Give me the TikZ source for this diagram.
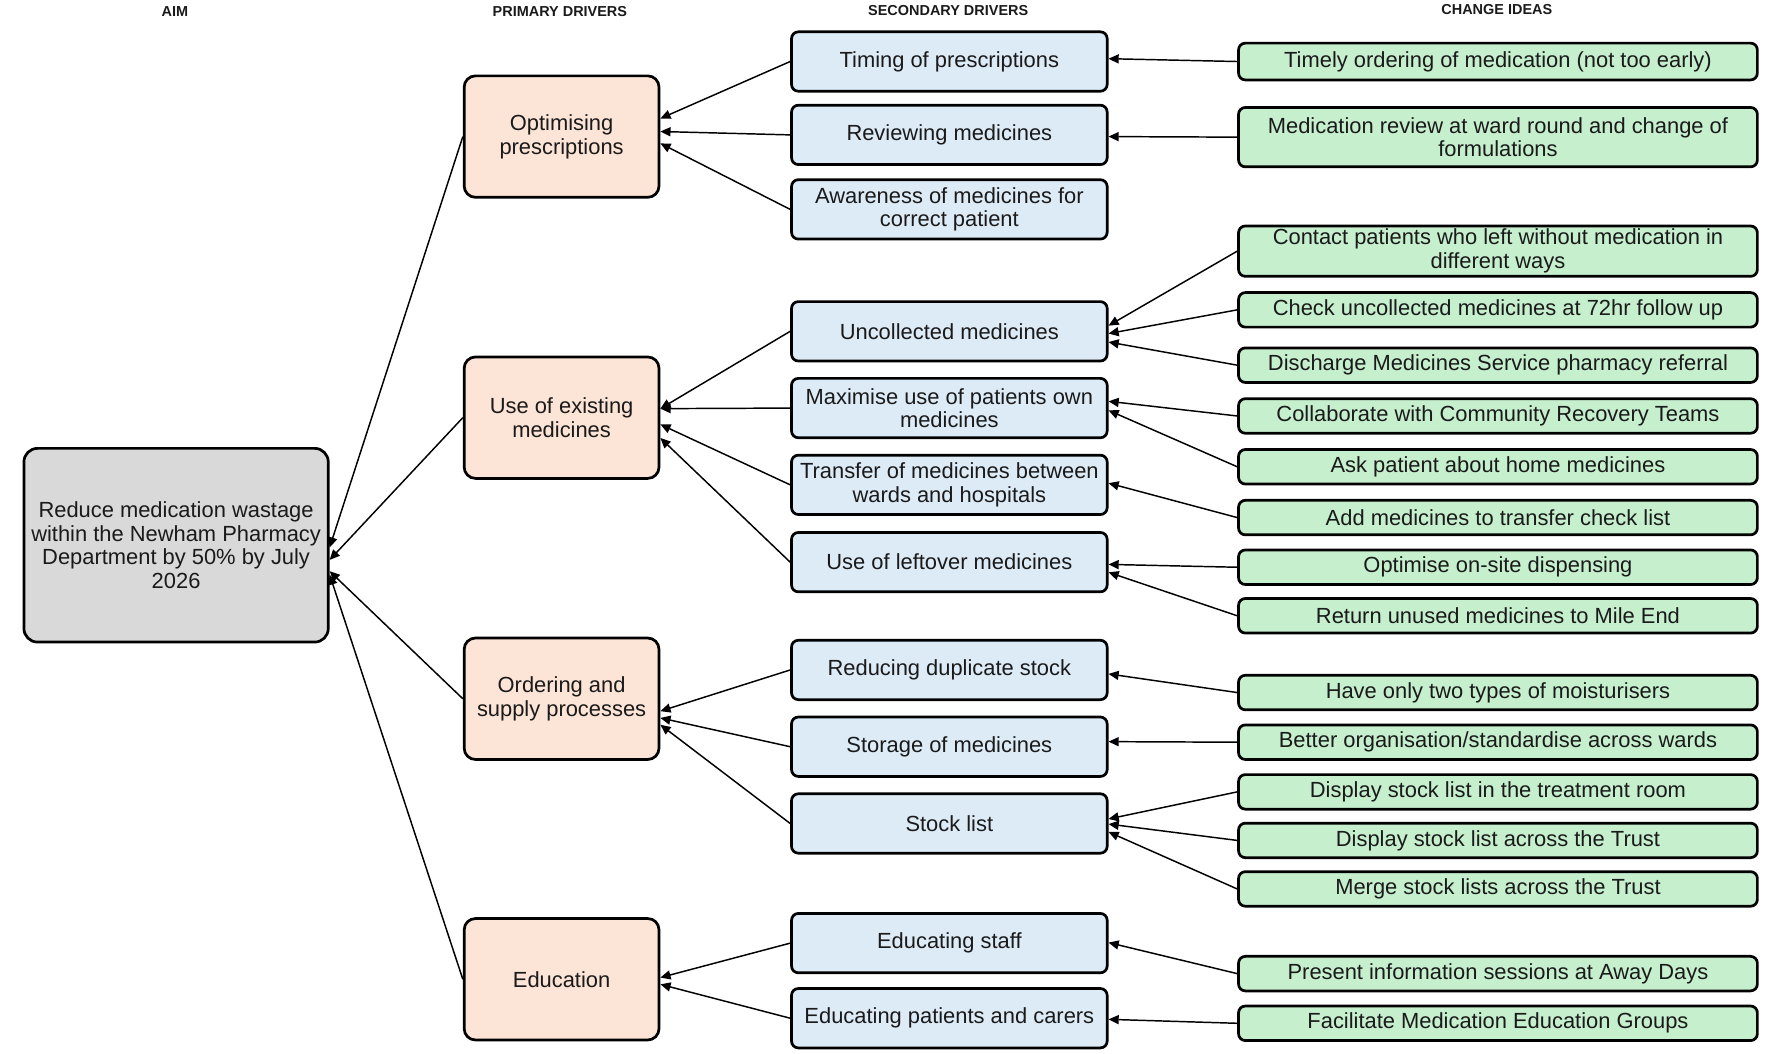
\documentclass[tikz,border=0pt]{standalone}
\usepackage{fontspec}
\setmainfont{Liberation Sans}
\usetikzlibrary{arrows.meta}
\definecolor{aimfill}{HTML}{D9D9D9}
\definecolor{prifill}{HTML}{FCE4D6}
\definecolor{secfill}{HTML}{DDEBF7}
\definecolor{idefill}{HTML}{C6EFCE}
\definecolor{txt}{HTML}{1A1A1A}
\begin{document}
\begin{tikzpicture}[x=1pt,y=-1pt,
  box/.style={draw=black, line width=2.4pt, align=center, inner sep=0pt, text=txt,
    font=\fontsize{19.4}{21}\selectfont},
  aimbox/.style={box, fill=aimfill, rounded corners=12pt, minimum width=269.6pt, minimum height=171.6pt},
  pribox/.style={box, fill=prifill, rounded corners=10pt, minimum width=172.6pt, minimum height=107.6pt},
  secbox/.style={box, fill=secfill, rounded corners=6pt, minimum width=279.6pt, minimum height=52.6pt},
  idebox/.style={box, fill=idefill, rounded corners=6pt, minimum width=459.6pt, minimum height=30.6pt},
  idetall/.style={idebox, minimum height=52.6pt},
  idemid/.style={idebox, minimum height=44.6pt},
  idesm/.style={idebox, minimum height=32.6pt},
  arr/.style={-{Triangle[length=9pt,width=8pt]}, line width=1.3pt},
  hdr/.style={font=\bfseries\fontsize{12.8}{14}\selectfont, text=txt, inner sep=0pt}
]
\useasboundingbox (0,0) rectangle (1568,933.7);

% headers
\node[hdr] (h1) at (155,10) {AIM};
\node[hdr] (h2) at (496,10) {PRIMARY DRIVERS};
\node[hdr] (h3) at (840,9) {SECONDARY DRIVERS};
\node[hdr] (h4) at (1326,8) {CHANGE IDEAS};

% aim
\node[aimbox] (aim) at (156,483) {Reduce medication wastage\\within the Newham Pharmacy\\Department by 50\% by July\\2026};

% primary drivers
\node[pribox] (p1) at (497.5,121) {Optimising\\prescriptions};
\node[pribox] (p2) at (497.5,370) {Use of existing\\medicines};
\node[pribox] (p3) at (497.5,619) {Ordering and\\supply processes};
\node[pribox] (p4) at (497.5,867.5) {Education};

% secondary drivers
\node[secbox] (s1) at (841,54.5) {Timing of prescriptions};
\node[secbox] (s2) at (841,119.5) {Reviewing medicines};
\node[secbox] (s3) at (841,185.5) {Awareness of medicines for\\correct patient};
\node[secbox] (s4) at (841,293.5) {Uncollected medicines};
\node[secbox] (s5) at (841,361.5) {Maximise use of patients own\\medicines};
\node[secbox] (s6) at (841,429.5) {Transfer of medicines between\\wards and hospitals};
\node[secbox] (s7) at (841,498) {Use of leftover medicines};
\node[secbox] (s8) at (841,593.5) {Reducing duplicate stock};
\node[secbox] (s9) at (841,661.5) {Storage of medicines};
\node[secbox] (s10) at (841,729.5) {Stock list};
\node[secbox] (s11) at (841,835.5) {Educating staff};
\node[secbox] (s12) at (841,902) {Educating patients and carers};

% change ideas
\node[idesm] (g1) at (1327,54.5) {Timely ordering of medication (not too early)};
\node[idetall] (g2) at (1327,121.5) {Medication review at ward round and change of\\formulations};
\node[idemid] (g3) at (1327,222.5) {Contact patients who left without medication in\\different ways};
\node[idebox] (g4) at (1327,274.5) {Check uncollected medicines at 72hr follow up};
\node[idebox] (g5) at (1327,323.5) {Discharge Medicines Service pharmacy referral};
\node[idebox] (g6) at (1327,368.5) {Collaborate with Community Recovery Teams};
\node[idebox] (g7) at (1327,413.5) {Ask patient about home medicines};
\node[idebox] (g8) at (1327,458.5) {Add medicines to transfer check list};
\node[idebox] (g9) at (1327,502.5) {Optimise on-site dispensing};
\node[idebox] (g10) at (1327,545.5) {Return unused medicines to Mile End};
\node[idebox] (g11) at (1327,613.5) {Have only two types of moisturisers};
\node[idebox] (g12) at (1327,657.5) {Better organisation/standardise across wards};
\node[idebox] (g13) at (1327,701.5) {Display stock list in the treatment room};
\node[idebox] (g14) at (1327,744.5) {Display stock list across the Trust};
\node[idebox] (g15) at (1327,787.5) {Merge stock lists across the Trust};
\node[idebox] (g16) at (1327,862.5) {Present information sessions at Away Days};
\node[idebox] (g17) at (1327,906.5) {Facilitate Medication Education Groups};

% primary -> aim
\draw[arr] (p1.west) -- ([yshift=-2pt]aim.east);
\draw[arr] (p2.west) -- ([yshift=-13pt]aim.east);
\draw[arr] (p3.west) -- ([yshift=-23pt]aim.east);
\draw[arr] (p4.west) -- ([yshift=-26pt]aim.east);

% secondary -> primary
\draw[arr] (s1.west) -- ([yshift=16pt]p1.east);
\draw[arr] (s2.west) -- ([yshift=4.5pt]p1.east);
\draw[arr] (s3.west) -- ([yshift=-6pt]p1.east);
\draw[arr] (s4.west) -- ([yshift=8pt]p2.east);
\draw[arr] (s5.west) -- ([yshift=8pt]p2.east);
\draw[arr] (s6.west) -- ([yshift=-6pt]p2.east);
\draw[arr] (s7.west) -- ([yshift=-18pt]p2.east);
\draw[arr] (s8.west) -- ([yshift=-11pt]p3.east);
\draw[arr] (s9.west) -- ([yshift=-17pt]p3.east);
\draw[arr] (s10.west) -- ([yshift=-23pt]p3.east);
\draw[arr] (s11.west) -- ([yshift=1.5pt]p4.east);
\draw[arr] (s12.west) -- ([yshift=-4.5pt]p4.east);

% change ideas -> secondary
\draw[arr] (g1.west) -- ([yshift=2.5pt]s1.east);
\draw[arr] (g2.west) -- ([yshift=-1.5pt]s2.east);
\draw[arr] (g3.west) -- ([yshift=5pt]s4.east);
\draw[arr] (g4.west) -- ([yshift=-2pt]s4.east);
\draw[arr] (g5.west) -- ([yshift=-9.5pt]s4.east);
\draw[arr] (g6.west) -- ([yshift=6pt]s5.east);
\draw[arr] (g7.west) -- ([yshift=-2pt]s5.east);
\draw[arr] (g8.west) -- ([yshift=1.5pt]s6.east);
\draw[arr] (g9.west) -- ([yshift=-2pt]s7.east);
\draw[arr] (g10.west) -- ([yshift=-9pt]s7.east);
\draw[arr] (g11.west) -- ([yshift=-3.5pt]s8.east);
\draw[arr] (g12.west) -- ([yshift=4.5pt]s9.east);
\draw[arr] (g13.west) -- ([yshift=4pt]s10.east);
\draw[arr] (g14.west) -- ([yshift=-0.5pt]s10.east);
\draw[arr] (g15.west) -- ([yshift=-7.5pt]s10.east);
\draw[arr] (g16.west) -- ([yshift=0.5pt]s11.east);
\draw[arr] (g17.west) -- ([yshift=-1pt]s12.east);
\end{tikzpicture}
\end{document}
